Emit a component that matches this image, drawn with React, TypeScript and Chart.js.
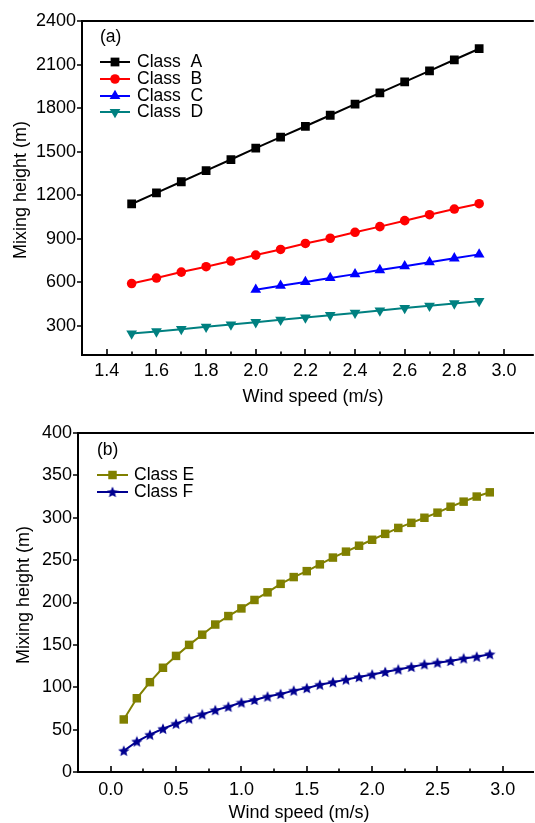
import React, { useEffect, useRef } from "react";
import { Chart, registerables } from "chart.js";

Chart.register(...registerables);

const FONT = '"Liberation Sans", Arial, Helvetica, sans-serif';

// ---------- Panel (a) data ----------
const windAB = [1.5, 1.6, 1.7, 1.8, 1.9, 2.0, 2.1, 2.2, 2.3, 2.4, 2.5, 2.6, 2.7, 2.8, 2.9];
const windC = [2.0, 2.1, 2.2, 2.3, 2.4, 2.5, 2.6, 2.7, 2.8, 2.9];
const classA = [1140, 1217, 1293, 1370, 1446, 1524, 1600, 1675, 1751, 1828, 1905, 1981, 2057, 2133, 2209];
const classB = [592, 630, 671, 708, 747, 788, 827, 868, 904, 945, 984, 1025, 1066, 1105, 1142];
const classC = [550, 577, 603, 631, 657, 685, 711, 739, 766, 793];
const classD = [248, 262, 278, 294, 310, 326, 342, 358, 374, 390, 406, 423, 439, 455, 471];
const topXTicks = [1.4, 1.6, 1.8, 2.0, 2.2, 2.4, 2.6, 2.8, 3.0];
const topXMinor = [1.5, 1.7, 1.9, 2.1, 2.3, 2.5, 2.7, 2.9];
const topYTicks = [300, 600, 900, 1200, 1500, 1800, 2100, 2400];

// ---------- Panel (b) data ----------
const windEF = [0.1, 0.2, 0.3, 0.4, 0.5, 0.6, 0.7, 0.8, 0.9, 1.0, 1.1, 1.2, 1.3, 1.4, 1.5, 1.6, 1.7, 1.8, 1.9, 2.0, 2.1, 2.2, 2.3, 2.4, 2.5, 2.6, 2.7, 2.8, 2.9];
const classE = [62, 87, 106, 123, 137, 150, 162, 174, 184, 193, 203, 212, 222, 230, 237, 245, 253, 260, 267, 274, 281, 288, 294, 300, 306, 313, 319, 325, 330];
const classF = [25, 36, 44, 51, 57, 63, 68, 73, 77, 82, 85, 89, 92, 96, 99, 103, 106, 109, 112, 115, 118, 121, 124, 127, 129, 131, 134, 136, 139];
const botXTicks = [0.0, 0.5, 1.0, 1.5, 2.0, 2.5, 3.0];
const botXMinor = [0.25, 0.75, 1.25, 1.75, 2.25, 2.75];
const botYTicks = [0, 50, 100, 150, 200, 250, 300, 350, 400];

const COL = {
  A: "#000000",
  B: "#ff0000",
  C: "#0000ff",
  D: "#008080",
  E: "#808000",
  F: "#000090",
};

const TICK_SIZE = 18;
const TITLE_SIZE = 18;
const LEGEND_SIZE = 17.5;

function makeStar(size: number, color: string) {
  const c = document.createElement("canvas");
  c.width = size;
  c.height = size;
  const g = c.getContext("2d")!;
  g.fillStyle = color;
  g.beginPath();
  const cx = size / 2, cy = size / 2 + 0.5, R = size / 2, r = R * 0.45;
  for (let i = 0; i < 10; i++) {
    const ang = -Math.PI / 2 + (i * Math.PI) / 5;
    const rad = i % 2 === 0 ? R : r;
    const px = cx + Math.cos(ang) * rad;
    const py = cy + Math.sin(ang) * rad;
    if (i === 0) g.moveTo(px, py);
    else g.lineTo(px, py);
  }
  g.closePath();
  g.fill();
  return c;
}

function drawShape(ctx: CanvasRenderingContext2D, shape: any, x: number, y: number, r: number, color: string, rot = 0) {
  ctx.fillStyle = color;
  if (typeof shape !== "string") {
    ctx.drawImage(shape, x - shape.width / 2, y - shape.height / 2);
    return;
  }
  ctx.beginPath();
  if (shape === "rect") {
    const s = r * Math.SQRT1_2;
    ctx.rect(x - s, y - s, 2 * s, 2 * s);
  } else if (shape === "circle") {
    ctx.arc(x, y, r, 0, Math.PI * 2);
  } else if (shape === "triangle") {
    let a = (rot * Math.PI) / 180;
    ctx.moveTo(x + Math.sin(a) * r, y - Math.cos(a) * r);
    a += (2 * Math.PI) / 3;
    ctx.lineTo(x + Math.sin(a) * r, y - Math.cos(a) * r);
    a += (2 * Math.PI) / 3;
    ctx.lineTo(x + Math.sin(a) * r, y - Math.cos(a) * r);
    ctx.closePath();
  }
  ctx.fill();
}

type LegendItem = { label: string; color: string; shape: any; r: number; rot?: number };

function makeDecor(cfg: {
  id: string;
  xMajor: number[];
  xMinor: number[];
  yMajor: number[];
  panel: string;
  panelPos: [number, number];
  legend: LegendItem[];
  legendX: [number, number, number];
  legendY: number[];
  yTitlePos: [number, number];
  xTitlePos: [number, number];
}) {
  return {
    id: cfg.id,
    afterDraw(chart: any) {
      const { ctx, chartArea: a, scales } = chart;
      const xs = scales.x, ys = scales.y;
      ctx.save();
      ctx.strokeStyle = "#000";
      ctx.lineWidth = 2;
      ctx.beginPath();
      ctx.moveTo(a.left, a.top);
      ctx.lineTo(a.right + 5, a.top);
      ctx.moveTo(a.left, a.top - 1);
      ctx.lineTo(a.left, a.bottom);
      ctx.lineTo(a.right + 5, a.bottom);
      ctx.stroke();

      ctx.lineWidth = 1.6;
      ctx.beginPath();
      for (const v of cfg.xMajor) {
        const px = Math.round(xs.getPixelForValue(v));
        ctx.moveTo(px, a.bottom);
        ctx.lineTo(px, a.bottom - 6);
      }
      for (const v of cfg.xMinor) {
        const px = Math.round(xs.getPixelForValue(v));
        ctx.moveTo(px, a.bottom);
        ctx.lineTo(px, a.bottom - 3.5);
      }
      for (const v of cfg.yMajor) {
        const py = Math.round(ys.getPixelForValue(v));
        ctx.moveTo(a.left - 5, py);
        ctx.lineTo(a.left, py);
      }
      ctx.stroke();

      // texts
      ctx.fillStyle = "#000";
      ctx.font = `${LEGEND_SIZE}px ${FONT}`;
      ctx.textBaseline = "middle";
      ctx.textAlign = "left";
      ctx.fillText(cfg.panel, cfg.panelPos[0], cfg.panelPos[1]);

      cfg.legend.forEach((it, i) => {
        const y = cfg.legendY[i];
        ctx.strokeStyle = it.color;
        ctx.lineWidth = 2;
        ctx.beginPath();
        ctx.moveTo(cfg.legendX[0], y);
        ctx.lineTo(cfg.legendX[1], y);
        ctx.stroke();
        drawShape(ctx, it.shape, (cfg.legendX[0] + cfg.legendX[1]) / 2, y, it.r, it.color, it.rot || 0);
        ctx.fillStyle = "#000";
        ctx.fillText(it.label, cfg.legendX[2], y);
      });

      ctx.font = `${TITLE_SIZE}px ${FONT}`;
      ctx.textAlign = "center";
      ctx.fillText("Wind speed (m/s)", cfg.xTitlePos[0], cfg.xTitlePos[1]);
      ctx.translate(cfg.yTitlePos[0], cfg.yTitlePos[1]);
      ctx.rotate(-Math.PI / 2);
      ctx.fillText("Mixing height (m)", 0, 0);
      ctx.restore();
    },
  };
}

function axisCommon(ticks: number[], size: (s: any) => void, padding: number, digits: number, min: number, max: number) {
  return {
    type: "linear" as const,
    min,
    max,
    afterFit: (s: any) => {
      size(s);
      s.paddingLeft = 0;
      s.paddingRight = 0;
    },
    afterBuildTicks: (s: any) => {
      s.ticks = ticks.map((v) => ({ value: v }));
    },
    grid: { display: false, drawTicks: false },
    border: { display: false },
    ticks: {
      font: { family: FONT, size: TICK_SIZE },
      color: "#000",
      padding,
      autoSkip: false,
      maxRotation: 0,
      callback: (v: any) => Number(v).toFixed(digits),
    },
  };
}

function ds(label: string, xs: number[], ys: number[], color: string, style: any, r: number, rot = 0) {
  return {
    label,
    data: xs.map((x, i) => ({ x, y: ys[i] })),
    showLine: true,
    borderColor: color,
    backgroundColor: color,
    borderWidth: 2,
    pointStyle: style,
    pointRadius: r,
    pointRotation: rot,
    pointBorderWidth: 0,
  };
}

function buildTop(): any {
  return {
    type: "scatter",
    data: {
      datasets: [
        ds("Class A", windAB, classA, COL.A, "rect", 6.2),
        ds("Class B", windAB, classB, COL.B, "circle", 4.8),
        ds("Class C", windC, classC, COL.C, "triangle", 6.2),
        ds("Class D", windAB, classD, COL.D, "triangle", 6.2, 180),
      ],
    },
    options: {
      animation: false,
      responsive: false,
      devicePixelRatio: 1,
      layout: { padding: { top: 21, left: 0, right: 0, bottom: 0 } },
      plugins: { legend: { display: false }, tooltip: { enabled: false } },
      scales: {
        x: axisCommon(topXTicks, (s) => { s.height = 55; }, 5, 1, 1.3, 3.1),
        y: axisCommon(topYTicks, (s) => { s.width = 82; }, 6, 0, 100, 2400),
      },
    },
    plugins: [
      makeDecor({
        id: "decorTop",
        xMajor: topXTicks,
        xMinor: topXMinor,
        yMajor: topYTicks,
        panel: "(a)",
        panelPos: [100, 37],
        legend: [
          { label: "Class  A", color: COL.A, shape: "rect", r: 6.2 },
          { label: "Class  B", color: COL.B, shape: "circle", r: 4.8 },
          { label: "Class  C", color: COL.C, shape: "triangle", r: 6.2 },
          { label: "Class  D", color: COL.D, shape: "triangle", r: 6.2, rot: 180 },
        ],
        legendX: [100, 130, 137],
        legendY: [62, 79, 96, 112],
        yTitlePos: [21, 190],
        xTitlePos: [313, 397],
      }),
    ],
  };
}

function buildBottom(): any {
  const star = makeStar(12, COL.F);
  const starLeg = makeStar(12, COL.F);
  return {
    type: "scatter",
    data: {
      datasets: [
        ds("Class E", windEF, classE, COL.E, "rect", 6),
        ds("Class F", windEF, classF, COL.F, star, 6),
      ],
    },
    options: {
      animation: false,
      responsive: false,
      devicePixelRatio: 1,
      layout: { padding: { top: 23, left: 0, right: 0, bottom: 0 } },
      plugins: { legend: { display: false }, tooltip: { enabled: false } },
      scales: {
        x: axisCommon(botXTicks, (s) => { s.height = 51; }, 7, 1, -0.25, 3.2),
        y: axisCommon(botYTicks, (s) => { s.width = 78; }, 6, 0, 0, 400),
      },
    },
    plugins: [
      makeDecor({
        id: "decorBottom",
        xMajor: botXTicks,
        xMinor: botXMinor,
        yMajor: botYTicks,
        panel: "(b)",
        panelPos: [97, 40],
        legend: [
          { label: "Class E", color: COL.E, shape: "rect", r: 6 },
          { label: "Class F", color: COL.F, shape: starLeg, r: 6 },
        ],
        legendX: [97, 128, 134],
        legendY: [65, 82],
        yTitlePos: [24, 185],
        xTitlePos: [299, 403],
      }),
    ],
  };
}

function ChartCanvas({ top, height, build }: { top: number; height: number; build: () => any }) {
  const ref = useRef<HTMLCanvasElement | null>(null);
  useEffect(() => {
    const chart = new Chart(ref.current!, build());
    return () => chart.destroy();
  }, []);
  return (
    <canvas
      ref={ref}
      width={535}
      height={height}
      style={{ position: "absolute", left: 0, top, width: 535, height, display: "block" }}
    />
  );
}

export default function App() {
  return (
    <div
      style={{
        position: "absolute",
        left: 0,
        top: 0,
        width: 535,
        height: 823,
        overflow: "hidden",
        background: "#fff",
      }}
    >
      <ChartCanvas top={0} height={410} build={buildTop} />
      <ChartCanvas top={410} height={413} build={buildBottom} />
    </div>
  );
}
